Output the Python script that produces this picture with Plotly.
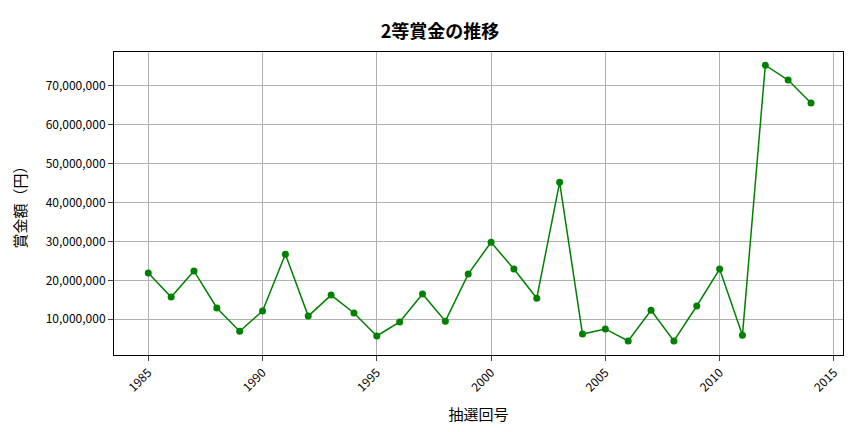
import plotly.graph_objects as go

# 抽選回 and 2等賞金 (円)
years = list(range(1985, 2015))
prize = [21.9, 15.7, 22.4, 12.9, 6.9, 12.1, 26.7, 10.8, 16.2, 11.6,
         5.7, 9.3, 16.5, 9.5, 21.6, 29.8, 22.9, 15.4, 45.2, 6.2,
         7.5, 4.4, 12.3, 4.4, 13.4, 22.9, 5.9, 75.3, 71.5, 65.6]
prize = [round(v * 1_000_000) for v in prize]

font_family = "Noto Sans CJK JP"

fig = go.Figure()
fig.add_trace(go.Scatter(
    x=years, y=prize, mode="lines+markers",
    line=dict(color="green", width=1.5),
    marker=dict(color="green", size=7),
    showlegend=False,
))

fig.update_layout(
    width=864, height=432,
    title=dict(text="<b>2等賞金の推移</b>", x=0.5, xanchor="center", y=0.96,
               font=dict(size=18, color="black", family=font_family)),
    font=dict(family=font_family, size=12, color="black"),
    paper_bgcolor="white", plot_bgcolor="white",
    margin=dict(l=103, r=29, t=44, b=85),
)
fig.update_xaxes(
    title=dict(text="抽選回号", font=dict(size=15)),
    range=[1983.5, 2015.4], tickvals=[1985, 1990, 1995, 2000, 2005, 2010, 2015],
    tickangle=-45, gridcolor="#b0b0b0", showline=True, linecolor="black",
    mirror=True, ticks="outside", zeroline=False,
)
fig.update_yaxes(
    title=dict(text="賞金額（円）", font=dict(size=15)),
    range=[800_000, 78_700_000], tickformat=",d",
    tickvals=[10_000_000 * i for i in range(1, 8)],
    gridcolor="#b0b0b0", showline=True, linecolor="black",
    mirror=True, ticks="outside", zeroline=False,
)

fig.write_html("out.html")
